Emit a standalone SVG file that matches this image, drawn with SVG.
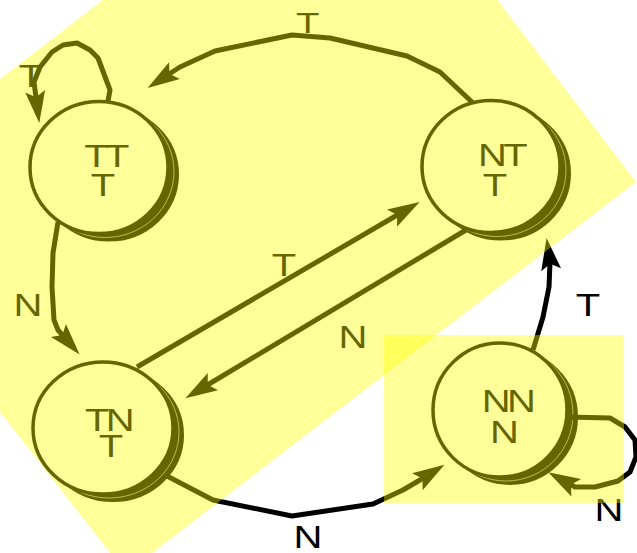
<svg xmlns="http://www.w3.org/2000/svg" width="637" height="553" viewBox="0 0 637 553">
<style>
.sh{fill:#000;stroke:#000;stroke-width:2}
.hl{fill:none;stroke:#fff;stroke-width:0.8;stroke-opacity:0.7}
.nd{fill:#fff;stroke:#000;stroke-width:3.5}
.lb{font-family:"Liberation Sans",Arial,sans-serif;font-size:32px;fill:#000;text-anchor:middle;letter-spacing:-3px}
.ed{fill:none;stroke:#000;stroke-width:5;stroke-linejoin:round;marker-end:url(#ah)}
.ov{fill:#FFFF00;fill-opacity:0.4}
</style>
<defs>
<marker id="ah" markerUnits="userSpaceOnUse" markerWidth="10" markerHeight="10" refX="0" refY="0" orient="auto" style="overflow:visible">
<path d="M10,0 L-22,-10 L-16,0 L-22,10 Z" fill="#000"/>
</marker>
</defs>
<rect width="637" height="553" fill="#fff"/>
<g id="node-TT">
<ellipse class="sh" cx="109" cy="174.5" rx="69" ry="66"/>
<ellipse class="hl" cx="105" cy="171.5" rx="69" ry="66"/>
<ellipse class="nd" cx="99" cy="167.5" rx="69" ry="66"/>
<text class="lb" transform="translate(105,167) scale(1.25,1)"><tspan x="0" y="0">TT</tspan><tspan x="-3.2" y="29">T</tspan></text>
</g>
<g id="node-NT">
<ellipse class="sh" cx="501" cy="173.5" rx="69" ry="66"/>
<ellipse class="hl" cx="497" cy="170.5" rx="69" ry="66"/>
<ellipse class="nd" cx="491" cy="166.5" rx="69" ry="66"/>
<text class="lb" transform="translate(501,166) scale(1.25,1)"><tspan x="0" y="0">NT</tspan><tspan x="-6.4" y="30">T</tspan></text>
</g>
<g id="node-TN">
<ellipse class="sh" cx="113" cy="435" rx="70" ry="66"/>
<ellipse class="hl" cx="109" cy="432" rx="70" ry="66"/>
<ellipse class="nd" cx="103" cy="428" rx="70" ry="66"/>
<text class="lb" transform="translate(108,431) scale(1.25,1)"><tspan x="0" y="0">TN</tspan><tspan x="0.8" y="26">T</tspan></text>
</g>
<g id="node-NN">
<ellipse class="sh" cx="510" cy="417" rx="67" ry="67"/>
<ellipse class="hl" cx="506" cy="414" rx="67" ry="67"/>
<ellipse class="nd" cx="500" cy="410" rx="67" ry="67"/>
<text class="lb" transform="translate(507,412) scale(1.25,1)"><tspan x="0" y="0">NN</tspan><tspan x="-3.6" y="31">N</tspan></text>
</g>
<g id="connectors">
<path class="ed" d="M473,103 L440,72 L407,56 L330,38 L292,35 L215,51 L180,67 L156,82.5"/>
<path class="ed" d="M108,101 L110,90 L98,58 L90,50 L77,43 L63,45 L52,52 L40,67 L34,82 L38,113"/>
<path class="ed" d="M58,222 L53,253 L52,287 L54,320 L58,330 L73,347"/>
<path class="ed" d="M137,367 L411,207"/>
<path class="ed" d="M466,230 L194,393"/>
<path class="ed" d="M165,475 L213,500 L292,516 L373,504 L403,490 L420,480 L436,470"/>
<path class="ed" d="M533,350 L543,317 L549,287 L550,262 L548,248"/>
<path class="ed" d="M567,417 L610,418 L625,427 L635,440 L636,457 L630,472 L618,481 L595,487 L575,487 L557,477"/>
<text class="lb" transform="translate(306,33) scale(1.2,0.93)">T</text>
<text class="lb" transform="translate(29,87) scale(1.25,1)">T</text>
<text class="lb" transform="translate(26,316) scale(1.25,1)">N</text>
<text class="lb" transform="translate(282,276) scale(1.25,1)">T</text>
<text class="lb" transform="translate(351,348) scale(1.25,1)">N</text>
<text class="lb" transform="translate(586,316) scale(1.25,1)">T</text>
<text class="lb" transform="translate(306,548) scale(1.25,1)">N</text>
<text class="lb" transform="translate(607,521) scale(1.25,1)">N</text>
</g>
<polygon class="ov" points="-163,204 352,-191 636,182 126,573"/>
<rect class="ov" x="384" y="335" width="240" height="168"/>
</svg>
